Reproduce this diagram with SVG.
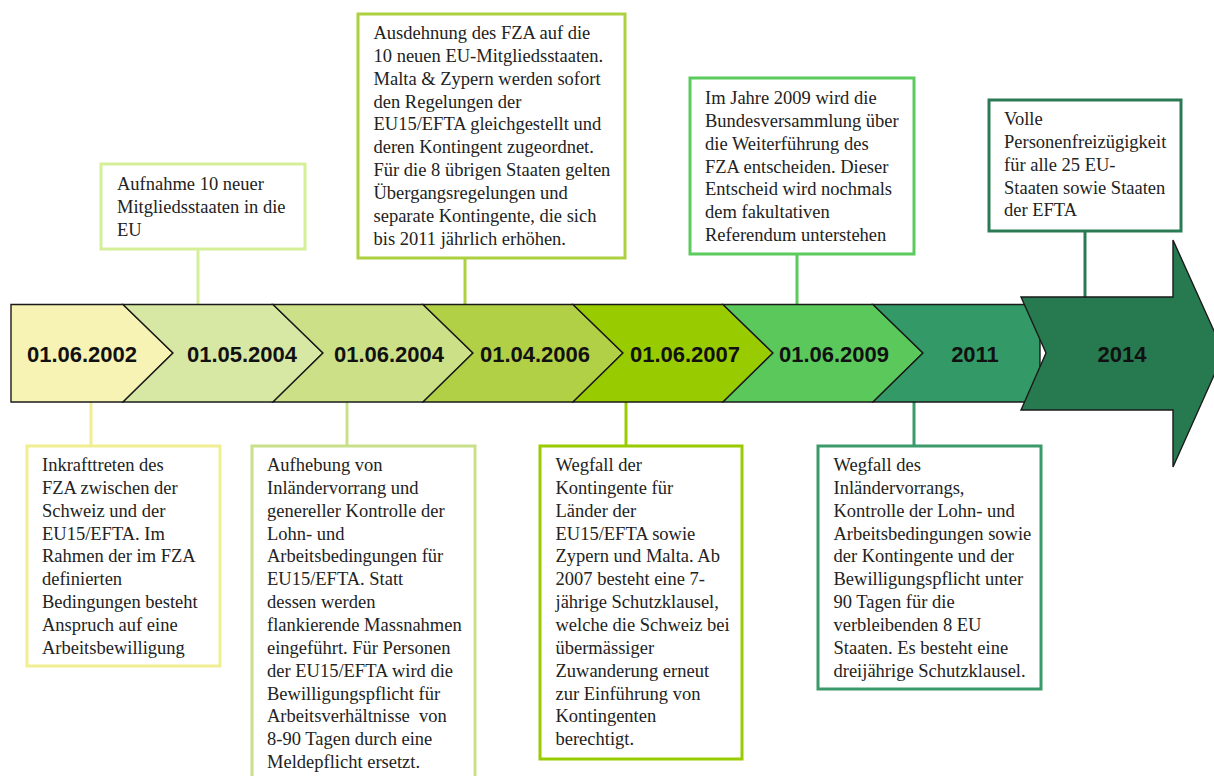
<svg xmlns="http://www.w3.org/2000/svg" width="1214" height="776" viewBox="0 0 1214 776">
<style>
.seg{stroke:#1a1a1a;stroke-width:1.4;stroke-linejoin:miter}
.lbl{font-family:"Liberation Sans",Arial,sans-serif;font-weight:bold;font-size:22px;fill:#111;text-anchor:middle}
.box{fill:#fff;stroke-width:3}
.txt{font-family:"Liberation Serif","Times New Roman",serif;font-size:18.5px;fill:#222}
.con{stroke-width:3;fill:none}
</style>
<rect width="1214" height="776" fill="#fff"/>
<g id="connectors">
<line class="con" x1="198" y1="249" x2="198" y2="304" stroke="#D5EE98"/>
<line class="con" x1="465" y1="258" x2="465" y2="304" stroke="#ADD040"/>
<line class="con" x1="797" y1="254" x2="797" y2="304" stroke="#5BCB5E"/>
<line class="con" x1="1085" y1="231" x2="1085" y2="297" stroke="#2A7A55"/>
<line class="con" x1="91" y1="402" x2="91" y2="445" stroke="#F0EE90"/>
<line class="con" x1="347" y1="402" x2="347" y2="445" stroke="#C9E08A"/>
<line class="con" x1="626" y1="402" x2="626" y2="445" stroke="#99CC00"/>
<line class="con" x1="914" y1="402" x2="914" y2="445" stroke="#3A9A6A"/>
</g>
<g id="timeline">
<g id="seg1"><polygon class="seg" fill="#F7F3B4" points="11,304.5 123,304.5 173,353 123,402 11,402"/><text class="lbl" x="82" y="361.5">01.06.2002</text></g>
<g id="seg2"><polygon class="seg" fill="#D7E8A4" points="123,304.5 273,304.5 323,353 273,402 123,402 173,353"/><text class="lbl" x="242" y="361.5">01.05.2004</text></g>
<g id="seg3"><polygon class="seg" fill="#CCE187" points="273,304.5 423,304.5 473,353 423,402 273,402 323,353"/><text class="lbl" x="389" y="361.5">01.06.2004</text></g>
<g id="seg4"><polygon class="seg" fill="#B1D046" points="423,304.5 573,304.5 623,353 573,402 423,402 473,353"/><text class="lbl" x="535" y="361.5">01.04.2006</text></g>
<g id="seg5"><polygon class="seg" fill="#99CC00" points="573,304.5 723,304.5 773,353 723,402 573,402 623,353"/><text class="lbl" x="685" y="361.5">01.06.2007</text></g>
<g id="seg6"><polygon class="seg" fill="#5BC85B" points="723,304.5 873,304.5 923,353 873,402 723,402 773,353"/><text class="lbl" x="834" y="361.5">01.06.2009</text></g>
<g id="seg7"><polygon class="seg" fill="#339966" points="873,304.5 1040,304.5 1040,402 873,402 923,353"/><text class="lbl" x="975" y="361.5">2011</text></g>
<g id="seg8"><polygon class="seg" fill="#277A50" points="1021,297 1173,297 1173,240 1224,353 1173,467 1173,410 1021,410 1046,353"/><text class="lbl" x="1122" y="361.5">2014</text></g>
</g>
<g id="boxA">
<rect class="box" x="101" y="164" width="204" height="85" stroke="#D5EE98"/>
<text class="txt"><tspan x="117" y="190">Aufnahme 10 neuer</tspan><tspan x="117" y="213">Mitgliedsstaaten in die</tspan><tspan x="117" y="236">EU</tspan></text>
</g>
<g id="boxB">
<rect class="box" x="358" y="14" width="267" height="244" stroke="#ADD040"/>
<text class="txt"><tspan x="373.5" y="39">Ausdehnung des FZA auf die</tspan><tspan x="373.5" y="61.9">10 neuen EU-Mitgliedsstaaten.</tspan><tspan x="373.5" y="84.7">Malta &amp; Zypern werden sofort</tspan><tspan x="373.5" y="107.6">den Regelungen der</tspan><tspan x="373.5" y="130.4">EU15/EFTA gleichgestellt und</tspan><tspan x="373.5" y="153.3">deren Kontingent zugeordnet.</tspan><tspan x="373.5" y="176.1">Für die 8 übrigen Staaten gelten</tspan><tspan x="373.5" y="199">Übergangsregelungen und</tspan><tspan x="373.5" y="221.8">separate Kontingente, die sich</tspan><tspan x="373.5" y="244.7">bis 2011 jährlich erhöhen.</tspan></text>
</g>
<g id="boxC">
<rect class="box" x="690" y="78" width="224" height="176" stroke="#5BCB5E"/>
<text class="txt"><tspan x="705" y="104">Im Jahre 2009 wird die</tspan><tspan x="705" y="126.9">Bundesversammlung über</tspan><tspan x="705" y="149.7">die Weiterführung des</tspan><tspan x="705" y="172.6">FZA entscheiden. Dieser</tspan><tspan x="705" y="195.4">Entscheid wird nochmals</tspan><tspan x="705" y="218.3">dem fakultativen</tspan><tspan x="705" y="241.1">Referendum unterstehen</tspan></text>
</g>
<g id="boxD">
<rect class="box" x="989" y="100" width="192" height="131" stroke="#2A7A55"/>
<text class="txt"><tspan x="1004" y="125">Volle</tspan><tspan x="1004" y="147.9">Personenfreizügigkeit</tspan><tspan x="1004" y="170.7">für alle 25 EU-</tspan><tspan x="1004" y="193.6">Staaten sowie Staaten</tspan><tspan x="1004" y="216.4">der EFTA</tspan></text>
</g>
<g id="boxE">
<rect class="box" x="27" y="446" width="193" height="220" stroke="#F0EE90"/>
<text class="txt"><tspan x="42" y="471">Inkrafttreten des</tspan><tspan x="42" y="493.9">FZA zwischen der</tspan><tspan x="42" y="516.7">Schweiz und der</tspan><tspan x="42" y="539.6">EU15/EFTA. Im</tspan><tspan x="42" y="562.4">Rahmen der im FZA</tspan><tspan x="42" y="585.3">definierten</tspan><tspan x="42" y="608.1">Bedingungen besteht</tspan><tspan x="42" y="631">Anspruch auf eine</tspan><tspan x="42" y="653.8">Arbeitsbewilligung</tspan></text>
</g>
<g id="boxF">
<rect class="box" x="252" y="446" width="223" height="350" stroke="#C9E08A"/>
<text class="txt"><tspan x="267" y="471">Aufhebung von</tspan><tspan x="267" y="493.9">Inländervorrang und</tspan><tspan x="267" y="516.7">genereller Kontrolle der</tspan><tspan x="267" y="539.6">Lohn- und</tspan><tspan x="267" y="562.4">Arbeitsbedingungen für</tspan><tspan x="267" y="585.3">EU15/EFTA. Statt</tspan><tspan x="267" y="608.1">dessen werden</tspan><tspan x="267" y="631">flankierende Massnahmen</tspan><tspan x="267" y="653.8">eingeführt. Für Personen</tspan><tspan x="267" y="676.7">der EU15/EFTA wird die</tspan><tspan x="267" y="699.5">Bewilligungspflicht für</tspan><tspan x="267" y="722.4">Arbeitsverhältnisse &#160;von</tspan><tspan x="267" y="745.2">8-90 Tagen durch eine</tspan><tspan x="267" y="768.1">Meldepflicht ersetzt.</tspan></text>
</g>
<g id="boxG">
<rect class="box" x="540" y="446" width="202" height="313" stroke="#99CC00"/>
<text class="txt"><tspan x="555.5" y="471">Wegfall der</tspan><tspan x="555.5" y="493.9">Kontingente für</tspan><tspan x="555.5" y="516.7">Länder der</tspan><tspan x="555.5" y="539.6">EU15/EFTA sowie</tspan><tspan x="555.5" y="562.4">Zypern und Malta. Ab</tspan><tspan x="555.5" y="585.3">2007 besteht eine 7-</tspan><tspan x="555.5" y="608.1">jährige Schutzklausel,</tspan><tspan x="555.5" y="631">welche die Schweiz bei</tspan><tspan x="555.5" y="653.8">übermässiger</tspan><tspan x="555.5" y="676.7">Zuwanderung erneut</tspan><tspan x="555.5" y="699.5">zur Einführung von</tspan><tspan x="555.5" y="722.4">Kontingenten</tspan><tspan x="555.5" y="745.2">berechtigt.</tspan></text>
</g>
<g id="boxH">
<rect class="box" x="818" y="446" width="223" height="243" stroke="#3A9A6A"/>
<text class="txt"><tspan x="833.5" y="471">Wegfall des</tspan><tspan x="833.5" y="493.9">Inländervorrangs,</tspan><tspan x="833.5" y="516.7">Kontrolle der Lohn- und</tspan><tspan x="833.5" y="539.6">Arbeitsbedingungen sowie</tspan><tspan x="833.5" y="562.4">der Kontingente und der</tspan><tspan x="833.5" y="585.3">Bewilligungspflicht unter</tspan><tspan x="833.5" y="608.1">90 Tagen für die</tspan><tspan x="833.5" y="631">verbleibenden 8 EU</tspan><tspan x="833.5" y="653.8">Staaten. Es besteht eine</tspan><tspan x="833.5" y="676.7">dreijährige Schutzklausel.</tspan></text>
</g>
</svg>
